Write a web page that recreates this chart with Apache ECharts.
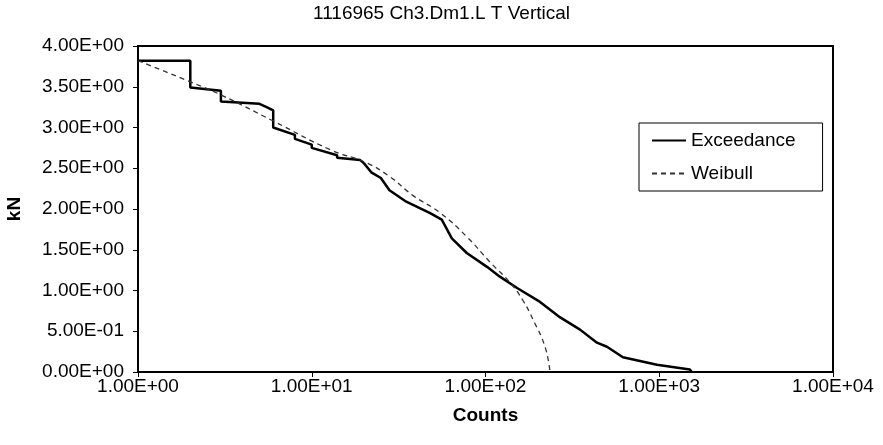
<!DOCTYPE html>
<html>
<head>
<meta charset="utf-8">
<script src="https://cdn.jsdelivr.net/npm/echarts@6/dist/echarts.min.js"></script>
<style>
  html, body { margin: 0; padding: 0; background: #fff; }
  #chart { width: 883px; height: 445px; }
</style>
</head>
<body>
<div id="chart"></div>
<script>
// Exceedance curve (step-like)
const exceedCounts = [1, 2, 2, 3, 3, 5, 5.5, 6, 6, 8, 8, 10, 10, 14, 14, 19, 20, 22, 25, 28, 35, 48, 56, 64, 78, 102, 121, 152, 206, 269, 350, 438, 500, 618, 970, 1500, 1540];
const exceedKN = [3.82, 3.82, 3.49, 3.45, 3.32, 3.29, 3.25, 3.21, 3.0, 2.91, 2.86, 2.79, 2.75, 2.66, 2.63, 2.60, 2.56, 2.45, 2.38, 2.23, 2.09, 1.95, 1.87, 1.64, 1.46, 1.29, 1.17, 1.03, 0.86, 0.67, 0.52, 0.36, 0.31, 0.18, 0.09, 0.03, 0];

// Weibull fit
const weibullCounts = [1, 2, 3, 6, 13, 20, 28, 38, 55, 78, 106, 138, 164, 188, 220, 235];
const weibullKN = [3.82, 3.56, 3.40, 3.08, 2.72, 2.58, 2.40, 2.17, 1.95, 1.66, 1.35, 1.10, 0.88, 0.64, 0.31, 0];

const yTicks = { min: 0, max: 4, interval: 0.5 };

function sci(v) {
    let s = Number(v).toExponential(2);
    let parts = s.split('e');
    let e = parts[1];
    return parts[0] + 'E' + e[0] + e.slice(1).padStart(2, '0');
}

let chart = echarts.init(document.getElementById('chart'));

const font = 'Liberation Sans, Arial, sans-serif';

const option = {
    animation: false,
    title: {
        text: '1116965 Ch3.Dm1.L T Vertical',
        left: 'center',
        top: 0,
        padding: [4, 5],
        textStyle: { fontFamily: font, fontSize: 19, fontWeight: 'normal', color: '#000' }
    },
    legend: {
        orient: 'vertical',
        left: 639,
        top: 123,
        padding: [8, 27, 8, 12],
        itemGap: 14,
        itemWidth: 34,
        itemHeight: 14,
        itemStyle: { opacity: 0 },
        borderColor: '#000',
        borderWidth: 1,
        backgroundColor: '#fff',
        textStyle: { fontFamily: font, fontSize: 19, color: '#000' },
        data: ['Exceedance', 'Weibull']
    },
    grid: {
        left: 138,
        right: 50,
        top: 46,
        bottom: 73,
        outerBoundsMode: 'none',
        show: true,
        borderColor: '#000',
        borderWidth: 2
    },
    xAxis: {
        type: 'log',
        logBase: 10,
        min: 1,
        max: 10000,
        name: 'Counts',
        nameLocation: 'middle',
        nameGap: 34,
        nameTextStyle: { fontFamily: font, fontSize: 19, fontWeight: 'bold', color: '#000' },
        axisLine: { lineStyle: { color: '#000', width: 2 } },
        axisTick: { lineStyle: { color: '#000' }, length: 5 },
        splitLine: { show: false },
        axisLabel: {
            fontFamily: font,
            fontSize: 19,
            color: '#000',
            margin: 5,
            showMaxLabel: true,
            formatter: sci
        }
    },
    yAxis: {
        type: 'value',
        min: yTicks.min,
        max: yTicks.max,
        interval: yTicks.interval,
        name: 'kN',
        nameLocation: 'middle',
        nameGap: 114,
        nameTextStyle: { fontFamily: font, fontSize: 19, fontWeight: 'bold', color: '#000' },
        axisLine: { show: true, lineStyle: { color: '#000', width: 2 } },
        axisTick: { show: true, lineStyle: { color: '#000' }, length: 5 },
        splitLine: { show: false },
        axisLabel: {
            fontFamily: font,
            fontSize: 19,
            color: '#000',
            margin: 14,
            formatter: sci
        }
    },
    series: [
        {
            name: 'Exceedance',
            type: 'line',
            showSymbol: false,
            symbol: 'none',
            lineStyle: { color: '#000', width: 2.5 },
            itemStyle: { color: '#000' },
            data: exceedCounts.map((c, i) => [c, exceedKN[i]])
        },
        {
            name: 'Weibull',
            type: 'line',
            showSymbol: false,
            symbol: 'none',
            smooth: true,
            lineStyle: { color: '#333', width: 1.3, type: [5, 4] },
            itemStyle: { color: '#333' },
            data: weibullCounts.map((c, i) => [c, weibullKN[i]])
        }
    ]
};

option && chart.setOption(option);
window.addEventListener('resize', chart.resize);
</script>
</body>
</html>
